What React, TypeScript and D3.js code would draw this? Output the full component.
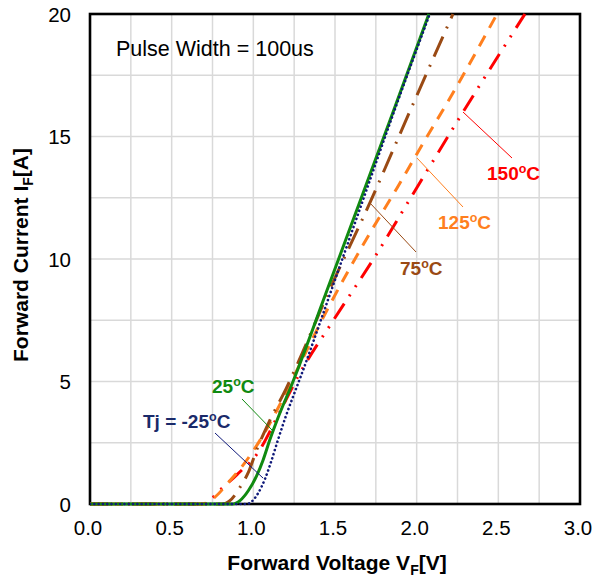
import React from "react";
import * as d3 from "d3";

const xTicks = [0, 0.5, 1.0, 1.5, 2.0, 2.5, 3.0];
const yTicks = [0, 5, 10, 15, 20];
const xGrid = d3.range(0, 3.0001, 0.25);
const yGrid = d3.range(0, 20.0001, 2.5);

const tjM25: [number, number][] = [[0, 0], [0.96, 0], [0.99, 0.1], [1.03, 0.45], [1.07, 1.0], [1.11, 1.75], [1.15, 2.6], [1.2, 3.6], [1.25, 4.5], [1.29, 5.2], [1.45, 8.2], [1.65, 12.0], [1.85, 15.8], [2.08, 20]];
const tj25: [number, number][] = [[0, 0], [0.87, 0], [0.92, 0.15], [0.97, 0.55], [1.02, 1.15], [1.06, 1.8], [1.1, 2.6], [1.15, 3.5], [1.24, 4.95], [1.45, 8.7], [1.65, 12.3], [1.85, 15.9], [2.075, 20]];
const tj75: [number, number][] = [[0, 0], [0.81, 0], [0.85, 0.1], [0.92, 0.7], [0.97, 1.3], [1.02, 2.2], [1.1, 3.4], [1.2, 4.7], [1.273, 5.76], [1.45, 8.5], [1.714, 12.3], [1.95, 15.9], [2.222, 20]];
const tj125: [number, number][] = [[0, 0], [0.7, 0], [0.76, 0.25], [0.85, 0.9], [0.95, 1.7], [1.05, 2.7], [1.15, 3.9], [1.27, 5.5], [1.45, 7.9], [1.7, 10.9], [1.88, 12.9], [2.002, 14.3], [2.25, 17.1], [2.492, 20]];
const tj150: [number, number][] = [[0, 0], [0.686, 0], [0.73, 0.12], [0.784, 0.49], [0.9, 1.2], [1.029, 2.1], [1.15, 3.6], [1.273, 5.2], [1.5, 7.6], [1.745, 10.1], [2.0, 12.9], [2.284, 16.0], [2.663, 20]];

const series = [
  { data: tj150, color: "#ff0000", dash: "18 9 2 9 2 9", width: 3, cap: "butt" },
  { data: tj125, color: "#ff7f1e", dash: "12 9", width: 3, cap: "butt" },
  { data: tj75, color: "#9a4a14", dash: "22 9 2 9", width: 3, cap: "butt" },
  { data: tj25, color: "#108a10", dash: "", width: 3, cap: "butt" },
  { data: tjM25, color: "#101a7a", dash: "0.1 4.2", width: 2.6, cap: "round" },
];

const W = 593, H = 579;
const L = 90, R = 580, T = 14, B = 504;

export default function App() {
  const x = d3.scaleLinear().domain([0, 3]).range([L, R]);
  const y = d3.scaleLinear().domain([0, 20]).range([B, T]);
  const line = d3.line<[number, number]>().x(d => x(d[0])).y(d => y(d[1])).curve(d3.curveMonotoneX);
  const font = "Arial, 'Liberation Sans', sans-serif";

  const label = (txt: string, xx: number, yy: number, color: string) => (
    <text x={xx} y={yy} fill={color} fontWeight="bold" fontSize={19} fontFamily={font}>
      {txt}
      <tspan fontSize={12.5} dy={-7.5}>o</tspan>
      <tspan dy={7.5}>C</tspan>
    </text>
  );

  return (
    <svg width={W} height={H} style={{ position: "absolute", left: 0, top: 0, background: "#fff" }}>
      <defs>
        <clipPath id="plot"><rect x={L} y={T - 2} width={R - L} height={B - T + 4} /></clipPath>
      </defs>
      <rect x={0} y={0} width={W} height={H} fill="#fff" />
      {xGrid.map(v => (
        <line key={"gx" + v} x1={x(v)} x2={x(v)} y1={T} y2={B} stroke="#d9d9d9" strokeWidth={1.5} />
      ))}
      {yGrid.map(v => (
        <line key={"gy" + v} x1={L} x2={R} y1={y(v)} y2={y(v)} stroke="#d9d9d9" strokeWidth={1.5} />
      ))}
      <rect x={L} y={T} width={R - L} height={B - T} fill="none" stroke="#000" strokeWidth={2.6} />
      <g clipPath="url(#plot)">
        {series.map((s, i) => (
          <path key={i} d={line(s.data) || ""} fill="none" stroke={s.color} strokeWidth={s.width}
            strokeDasharray={s.dash || undefined} strokeLinecap={s.cap as any} />
        ))}
      </g>
      {xTicks.map(v => (
        <text key={"tx" + v} x={x(v) - 2} y={535} textAnchor="middle" fontSize={20.5} fontFamily={font} fill="#000">{v.toFixed(1)}</text>
      ))}
      {yTicks.map(v => (
        <text key={"ty" + v} x={71} y={y(v) + 7.5} textAnchor="end" fontSize={20.5} fontFamily={font} fill="#000">{v}</text>
      ))}
      <text x={337} y={570} textAnchor="middle" fontSize={21} fontWeight="bold" fontFamily={font} fill="#000">
        Forward Voltage V<tspan fontSize={14} dy={5}>F</tspan><tspan dy={-5}>[V]</tspan>
      </text>
      <text transform={`translate(28,${(T + B) / 2 - 4}) rotate(-90)`} textAnchor="middle" fontSize={21} fontWeight="bold" fontFamily={font} fill="#000">
        Forward Current I<tspan fontSize={14} dy={5}>F</tspan><tspan dy={-5}>[A]</tspan>
      </text>
      <text x={116} y={56} fontSize={21.5} fontFamily={font} fill="#000">Pulse Width = 100us</text>

      <line x1={463} y1={112} x2={512} y2={158} stroke="#ff0000" strokeWidth={1} />
      {label("150", 487, 180, "#ff0000")}
      <line x1={417} y1={158} x2={463} y2={207} stroke="#ff7f1e" strokeWidth={1} />
      {label("125", 438, 229, "#ff7f1e")}
      <line x1={370} y1={203} x2={416} y2={252} stroke="#9a4a14" strokeWidth={1} />
      {label("75", 400, 275, "#9a4a14")}
      <line x1={242} y1={399} x2={272} y2={430} stroke="#108a10" strokeWidth={1} />
      {label("25", 212, 393, "#108a10")}
      <line x1={215} y1={433} x2={263} y2={478} stroke="#101a7a" strokeWidth={1} />
      {label("Tj = -25", 143, 428, "#1a2a6a")}
    </svg>
  );
}
